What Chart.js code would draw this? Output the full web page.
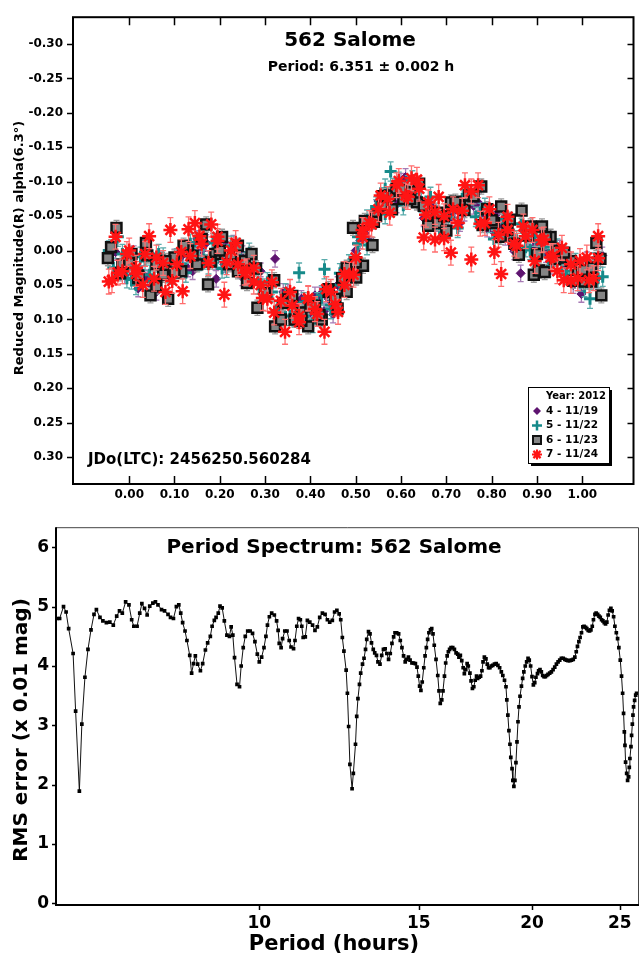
<!DOCTYPE html>
<html>
<head>
<meta charset="utf-8">
<title>562 Salome</title>
<script src="https://cdn.jsdelivr.net/npm/chart.js"></script>
<style>
  html, body { margin: 0; padding: 0; background: #fff; }
  #wrap { position: relative; width: 643px; height: 967px; }
  #curve { position: absolute; left: 0; top: 0; }
  #spectrum { position: absolute; left: 0; top: 510px; }
</style>
</head>
<body>
<div id="wrap">
  <canvas id="curve" width="643" height="510"></canvas>
  <canvas id="spectrum" width="643" height="457"></canvas>
</div>
<script>
const FONT = "'DejaVu Sans', sans-serif";

// Lightcurve: phase and reduced magnitude for each night
const phase4 = [-0.04, -0.02, 0.00, 0.02, 0.04, 0.06, 0.08, 0.10, 0.12, 0.14,
  0.16, 0.192, 0.21, 0.23, 0.25, 0.27, 0.29, 0.322, 0.34, 0.36,
  0.38, 0.40, 0.42, 0.44, 0.46, 0.48, 0.50, 0.52, 0.54, 0.56,
  0.58, 0.60, 0.62, 0.64, 0.66, 0.68, 0.70, 0.72, 0.74, 0.76,
  0.78, 0.80, 0.82, 0.864, 0.88, 0.90, 0.92, 0.94, 0.96, 0.98,
  0.998, 1.02, 1.044];
const mag4 = [0.005, 0.030, 0.020, 0.055, 0.040, 0.060, 0.030, 0.010, 0.005, 0.030,
  0.000, 0.041, 0.020, -0.010, 0.005, 0.010, 0.030, 0.012, 0.060, 0.080,
  0.070, 0.090, 0.065, 0.070, 0.050, 0.030, 0.000, -0.025, -0.050, -0.070,
  -0.080, -0.100, -0.080, -0.075, -0.050, -0.040, -0.050, -0.060, -0.055, -0.065,
  -0.050, -0.030, -0.035, 0.033, -0.020, -0.010, 0.005, 0.000, 0.020, 0.050,
  0.063, 0.030, 0.007];
const phase4b = [-0.03, -0.01, 0.01, 0.03, 0.05, 0.07, 0.09, 0.11, 0.13, 0.15,
  0.17, 0.19, 0.21, 0.23, 0.25, 0.27, 0.29, 0.31, 0.33, 0.35,
  0.37, 0.39, 0.41, 0.43, 0.45, 0.47, 0.49, 0.51, 0.53, 0.55,
  0.57, 0.59, 0.61, 0.63, 0.65, 0.67, 0.69, 0.71, 0.73, 0.75,
  0.77, 0.79, 0.81, 0.83, 0.85, 0.87, 0.89, 0.91, 0.93, 0.95,
  0.97, 0.99, 1.01, 1.03];
const mag4b = [0.002, 0.036, 0.005, 0.034, 0.051, 0.012, 0.030, 0.012, 0.026, -0.017,
  -0.011, 0.016, -0.012, 0.018, 0.039, 0.015, 0.050, 0.052, 0.086, 0.061,
  0.075, 0.101, 0.065, 0.088, 0.093, 0.035, 0.028, -0.015, -0.017, -0.072,
  -0.080, -0.067, -0.107, -0.076, -0.047, -0.065, -0.032, -0.048, -0.040, -0.083,
  -0.070, -0.032, -0.053, -0.020, 0.001, -0.029, -0.002, -0.009, 0.022, -0.003,
  0.014, 0.046, 0.014, 0.042];

const phase5 = [-0.045, -0.025, -0.005, 0.015, 0.035, 0.055, 0.075, 0.095, 0.115, 0.135,
  0.155, 0.175, 0.195, 0.215, 0.235, 0.255, 0.275, 0.295, 0.315, 0.335,
  0.355, 0.375, 0.395, 0.415, 0.431, 0.445, 0.465, 0.485, 0.505, 0.525,
  0.545, 0.565, 0.577, 0.595, 0.615, 0.635, 0.655, 0.675, 0.695, 0.715,
  0.735, 0.755, 0.775, 0.795, 0.815, 0.835, 0.855, 0.875, 0.895, 0.915,
  0.935, 0.955, 0.975, 0.995, 1.017, 1.035];
const mag5 = [0.000, -0.020, 0.040, 0.050, 0.015, 0.045, 0.010, 0.035, 0.020, -0.010,
  0.015, 0.020, 0.010, 0.025, 0.005, 0.030, 0.020, 0.055, 0.060, 0.090,
  0.095, 0.032, 0.100, 0.075, 0.027, 0.085, 0.050, 0.020, -0.020, -0.045,
  -0.060, -0.090, -0.115, -0.100, -0.095, -0.090, -0.060, -0.055, -0.035, -0.060,
  -0.075, -0.080, -0.055, -0.040, -0.025, -0.030, -0.015, -0.005, -0.020, -0.005,
  0.000, 0.020, 0.030, 0.045, 0.070, 0.040];
const phase5b = [-0.035, -0.015, 0.005, 0.025, 0.045, 0.065, 0.085, 0.105, 0.125, 0.145,
  0.165, 0.185, 0.205, 0.225, 0.245, 0.265, 0.285, 0.305, 0.325, 0.345,
  0.365, 0.385, 0.405, 0.425, 0.445, 0.465, 0.485, 0.505, 0.525, 0.545,
  0.565, 0.585, 0.605, 0.625, 0.645, 0.665, 0.685, 0.705, 0.725, 0.745,
  0.765, 0.785, 0.805, 0.825, 0.845, 0.865, 0.885, 0.905, 0.925, 0.945,
  0.965, 0.985, 1.005, 1.025, 1.045];
const mag5b = [0.025, 0.005, 0.042, 0.009, 0.035, 0.005, 0.033, 0.011, 0.032, -0.012,
  0.013, -0.011, 0.026, -0.007, 0.021, 0.003, 0.049, 0.046, 0.087, 0.062,
  0.097, 0.075, 0.105, 0.065, 0.079, 0.033, 0.038, -0.010, -0.008, -0.064,
  -0.053, -0.091, -0.066, -0.102, -0.070, -0.078, -0.032, -0.049, -0.033, -0.078,
  -0.049, -0.062, -0.017, -0.046, -0.017, -0.039, -0.001, -0.013, 0.024, -0.003,
  0.035, 0.018, 0.053, 0.017, 0.038];

const phase6 = [-0.047, -0.028, -0.015, 0.005, 0.020, 0.037, 0.047, 0.060, 0.075, 0.086,
  0.100, 0.115, 0.130, 0.150, 0.170, 0.174, 0.190, 0.205, 0.225, 0.240,
  0.255, 0.270, 0.283, 0.300, 0.322, 0.335, 0.350, 0.365, 0.380, 0.395,
  0.410, 0.425, 0.440, 0.455, 0.470, 0.480, 0.494, 0.501, 0.516, 0.537,
  0.545, 0.560, 0.575, 0.590, 0.605, 0.620, 0.635, 0.650, 0.665, 0.680,
  0.695, 0.710, 0.730, 0.750, 0.777, 0.790, 0.805, 0.821, 0.835, 0.850,
  0.866, 0.886, 0.893, 0.904, 0.911, 0.917, 0.930, 0.945, 0.960, 0.975,
  0.990, 1.005, 1.020, 1.031, 1.042];
const mag6 = [0.011, -0.033, 0.020, 0.005, 0.040, -0.011, 0.065, 0.020, 0.035, 0.070,
  0.010, 0.030, 0.000, 0.020, -0.038, 0.049, 0.005, -0.020, 0.010, 0.030,
  0.015, 0.005, 0.083, 0.060, 0.110, 0.100, 0.070, 0.100, 0.090, 0.110,
  0.080, 0.100, 0.060, 0.070, 0.040, 0.060, -0.033, 0.039, 0.022, -0.008,
  -0.050, -0.065, -0.080, -0.090, -0.075, -0.085, -0.070, -0.065, -0.050, -0.040,
  -0.050, -0.070, -0.065, -0.080, -0.093, -0.060, -0.040, -0.064, -0.030, -0.010,
  -0.058, -0.035, 0.035, 0.029, -0.035, 0.031, -0.020, 0.000, 0.010, 0.015,
  0.030, 0.045, 0.025, -0.011, 0.065];
const phase6b = [-0.04, -0.02, 0.00, 0.02, 0.04, 0.06, 0.08, 0.10, 0.12, 0.14,
  0.16, 0.18, 0.20, 0.22, 0.24, 0.26, 0.28, 0.30, 0.32, 0.34,
  0.36, 0.38, 0.40, 0.42, 0.44, 0.46, 0.48, 0.50, 0.52, 0.54,
  0.56, 0.58, 0.60, 0.62, 0.64, 0.66, 0.68, 0.70, 0.72, 0.74,
  0.76, 0.78, 0.80, 0.82, 0.84, 0.86, 0.88, 0.90, 0.92, 0.94,
  0.96, 0.98, 1.00, 1.02, 1.04];
const mag6b = [-0.005, 0.033, 0.018, 0.036, 0.007, 0.052, 0.015, 0.032, -0.007, 0.007,
  -0.017, 0.016, 0.000, 0.020, -0.007, 0.047, 0.026, 0.062, 0.043, 0.076,
  0.066, 0.102, 0.081, 0.094, 0.056, 0.084, 0.025, 0.017, -0.043, -0.042,
  -0.079, -0.060, -0.089, -0.075, -0.097, -0.036, -0.055, -0.029, -0.071, -0.059,
  -0.079, -0.037, -0.044, -0.020, -0.045, 0.006, -0.022, 0.005, -0.020, 0.012,
  0.003, 0.044, 0.028, 0.045, 0.012];

const phase7 = [-0.045, -0.038, -0.030, -0.015, 0.000, 0.015, 0.030, 0.044, 0.060, 0.080,
  0.091, 0.105, 0.118, 0.131, 0.145, 0.160, 0.181, 0.195, 0.210, 0.225,
  0.240, 0.260, 0.275, 0.290, 0.305, 0.320, 0.344, 0.360, 0.375, 0.395,
  0.410, 0.431, 0.445, 0.461, 0.475, 0.486, 0.500, 0.515, 0.530, 0.550,
  0.570, 0.590, 0.610, 0.623, 0.640, 0.650, 0.660, 0.675, 0.683, 0.695,
  0.710, 0.725, 0.741, 0.755, 0.770, 0.785, 0.806, 0.821, 0.835, 0.850,
  0.870, 0.890, 0.910, 0.930, 0.945, 0.959, 0.975, 0.990, 1.010, 1.025,
  1.035];
const mag7 = [0.045, 0.043, -0.020, 0.030, 0.000, 0.025, 0.050, -0.021, 0.010, 0.060,
  -0.030, 0.020, 0.059, -0.031, -0.040, -0.010, -0.038, -0.020, 0.064, 0.000,
  0.020, 0.030, 0.045, 0.050, 0.070, 0.090, 0.118, 0.080, 0.095, 0.070,
  0.085, 0.118, 0.060, 0.089, 0.050, 0.035, 0.010, -0.020, -0.040, -0.060,
  -0.075, -0.095, -0.080, -0.105, -0.090, -0.019, -0.070, -0.016, -0.078, -0.050,
  0.003, -0.040, -0.095, 0.013, -0.095, -0.040, 0.002, 0.034, -0.030, -0.010,
  -0.035, -0.030, -0.015, 0.010, 0.030, 0.043, 0.020, 0.040, 0.010, 0.040,
  -0.021];
const phase7b = [-0.025, -0.005, 0.015, 0.035, 0.055, 0.075, 0.095, 0.115, 0.135, 0.155,
  0.175, 0.195, 0.215, 0.235, 0.255, 0.275, 0.295, 0.315, 0.335, 0.355,
  0.375, 0.395, 0.415, 0.435, 0.455, 0.475, 0.495, 0.515, 0.535, 0.555,
  0.575, 0.595, 0.615, 0.635, 0.655, 0.675, 0.695, 0.715, 0.735, 0.755,
  0.775, 0.795, 0.815, 0.835, 0.855, 0.875, 0.895, 0.915, 0.935, 0.955,
  0.975, 0.995, 1.015, 1.035];
const mag7b = [0.032, 0.005, 0.034, 0.005, 0.041, 0.018, 0.044, 0.002, 0.008, -0.021,
  0.018, -0.014, 0.017, -0.011, 0.032, 0.025, 0.069, 0.046, 0.073, 0.060,
  0.104, 0.069, 0.092, 0.056, 0.078, 0.034, 0.035, -0.030, -0.038, -0.080,
  -0.055, -0.101, -0.078, -0.103, -0.052, -0.056, -0.018, -0.060, -0.058, -0.086,
  -0.039, -0.060, -0.023, -0.049, -0.007, -0.021, 0.015, -0.016, 0.008, -0.004,
  0.044, 0.015, 0.043, 0.011];

// typical error bar half-heights per night
const err4 = 0.012, err5 = 0.014, err6 = 0.011, err7 = 0.018;

const phaseTicks = [0.0, 0.1, 0.2, 0.3, 0.4, 0.5, 0.6, 0.7, 0.8, 0.9, 1.0];
const magTicks = [-0.30, -0.25, -0.20, -0.15, -0.10, -0.05, 0.00, 0.05, 0.10, 0.15, 0.20, 0.25, 0.30];

// Period spectrum
const periodHours = [
  5.98, 6.02, 6.08, 6.12, 6.16, 6.23, 6.27, 6.33, 6.37, 6.42,
  6.47, 6.52, 6.57, 6.61, 6.67, 6.72, 6.78, 6.84, 6.90, 6.96,
  7.01, 7.06, 7.12, 7.18, 7.23, 7.27, 7.33, 7.38, 7.42, 7.47,
  7.52, 7.57, 7.63, 7.68, 7.73, 7.80, 7.86, 7.93, 7.98, 8.04,
  8.10, 8.15, 8.19, 8.23, 8.28, 8.32, 8.38, 8.42, 8.46, 8.50,
  8.55, 8.61, 8.66, 8.72, 8.77, 8.83, 8.87, 8.92, 8.96, 9.01,
  9.05, 9.10, 9.15, 9.21, 9.27, 9.31, 9.35, 9.39, 9.45, 9.51,
  9.55, 9.60, 9.65, 9.71, 9.77, 9.83, 9.89, 9.95, 10.00, 10.06,
  10.12, 10.17, 10.21, 10.26, 10.32, 10.39, 10.45, 10.49, 10.52, 10.57,
  10.61, 10.67, 10.73, 10.79, 10.84, 10.91, 10.95, 11.00, 11.05, 11.10,
  11.14, 11.18, 11.24, 11.30, 11.37, 11.45, 11.52, 11.59, 11.66, 11.74,
  11.82, 11.89, 11.96, 12.04, 12.11, 12.18, 12.25, 12.30, 12.35, 12.40,
  12.47, 12.51, 12.55, 12.59, 12.66, 12.70, 12.77, 12.81, 12.85, 12.90,
  12.94, 13.00, 13.05, 13.10, 13.14, 13.20, 13.25, 13.30, 13.36, 13.41,
  13.47, 13.52, 13.59, 13.65, 13.71, 13.77, 13.83, 13.89, 13.95, 14.01,
  14.07, 14.12, 14.18, 14.25, 14.31, 14.37, 14.43, 14.49, 14.55, 14.61,
  14.67, 14.74, 14.80, 14.87, 14.93, 14.98, 15.03, 15.08, 15.13, 15.19,
  15.24, 15.29, 15.34, 15.39, 15.45, 15.50, 15.55, 15.60, 15.67, 15.74,
  15.79, 15.84, 15.90, 15.95, 16.01, 16.06, 16.12, 16.17, 16.22, 16.28,
  16.35, 16.42, 16.49, 16.56, 16.61, 16.67, 16.73, 16.79, 16.84, 16.90,
  16.96, 17.01, 17.08, 17.13, 17.19, 17.25, 17.31, 17.37, 17.42, 17.49,
  17.55, 17.61, 17.66, 17.72, 17.79, 17.85, 17.91, 17.97, 18.03, 18.10,
  18.18, 18.26, 18.34, 18.42, 18.50, 18.57, 18.65, 18.72, 18.76, 18.81,
  18.86, 18.91, 18.95, 19.01, 19.05, 19.10, 19.15, 19.20, 19.25, 19.30,
  19.35, 19.40, 19.47, 19.53, 19.59, 19.66, 19.73, 19.80, 19.86, 19.93,
  20.00, 20.07, 20.14, 20.20, 20.28, 20.34, 20.41, 20.48, 20.55, 20.62,
  20.69, 20.76, 20.83, 20.92, 21.01, 21.10, 21.19, 21.28, 21.37, 21.46,
  21.55, 21.65, 21.74, 21.83, 21.92, 22.02, 22.11, 22.21, 22.30, 22.38,
  22.45, 22.53, 22.60, 22.68, 22.76, 22.83, 22.92, 22.99, 23.07, 23.15,
  23.23, 23.31, 23.38, 23.47, 23.54, 23.63, 23.71, 23.79, 23.87, 23.95,
  24.03, 24.11, 24.19, 24.27, 24.35, 24.44, 24.52, 24.61, 24.69, 24.78,
  24.86, 24.94, 25.03, 25.11, 25.18, 25.24, 25.29, 25.33, 25.37, 25.44,
  25.50, 25.57, 25.61, 25.65, 25.72, 25.76, 25.81, 25.85, 25.89, 25.96,
  26.03, 26.09];
const rmsError = [
  4.80, 4.80, 5.00, 4.91, 4.63, 4.21, 3.24, 1.89, 3.02, 3.81,
  4.28, 4.61, 4.87, 4.95, 4.82, 4.76, 4.73, 4.74, 4.69, 4.84,
  4.93, 4.89, 5.08, 5.03, 4.78, 4.67, 4.67, 4.89, 5.05, 4.97,
  4.86, 5.01, 5.06, 5.08, 5.03, 4.95, 4.93, 4.87, 4.82, 4.80,
  5.00, 5.03, 4.89, 4.73, 4.59, 4.43, 4.18, 3.88, 4.04, 4.17,
  4.03, 3.92, 4.04, 4.27, 4.39, 4.50, 4.67, 4.77, 4.82, 4.89,
  5.01, 4.98, 4.76, 4.52, 4.50, 4.66, 4.52, 4.14, 3.69, 3.65,
  4.00, 4.31, 4.50, 4.59, 4.59, 4.55, 4.41, 4.20, 4.07, 4.15,
  4.31, 4.50, 4.69, 4.83, 4.89, 4.86, 4.76, 4.60, 4.38, 4.31,
  4.46, 4.59, 4.59, 4.43, 4.32, 4.29, 4.43, 4.67, 4.80, 4.78,
  4.67, 4.48, 4.49, 4.77, 4.74, 4.69, 4.60, 4.66, 4.82, 4.89,
  4.87, 4.78, 4.74, 4.77, 4.91, 4.94, 4.88, 4.78, 4.48, 4.25,
  3.93, 3.54, 2.98, 2.34, 1.93, 2.19, 2.68, 3.15, 3.45, 3.69,
  3.88, 4.03, 4.13, 4.28, 4.45, 4.58, 4.54, 4.39, 4.28, 4.22,
  4.18, 4.07, 4.03, 4.18, 4.28, 4.29, 4.21, 4.11, 4.21, 4.38,
  4.49, 4.56, 4.56, 4.54, 4.43, 4.31, 4.17, 4.07, 4.11, 4.15,
  4.10, 4.05, 4.05, 4.04, 3.98, 3.83, 3.66, 3.59, 3.73, 3.97,
  4.17, 4.31, 4.45, 4.56, 4.61, 4.63, 4.54, 4.35, 4.11, 3.84,
  3.58, 3.37, 3.43, 3.58, 3.83, 4.05, 4.17, 4.24, 4.28, 4.31,
  4.31, 4.28, 4.22, 4.20, 4.15, 4.18, 4.09, 3.97, 3.87, 3.94,
  4.04, 4.00, 3.88, 3.75, 3.62, 3.65, 3.76, 3.83, 3.79, 3.81,
  3.83, 3.92, 4.07, 4.15, 4.12, 4.03, 3.97, 3.97, 4.00, 4.01,
  4.03, 4.04, 4.01, 3.97, 3.90, 3.84, 3.76, 3.65, 3.43, 3.17,
  2.91, 2.68, 2.46, 2.27, 2.07, 1.97, 2.07, 2.37, 2.72, 3.06,
  3.31, 3.49, 3.66, 3.79, 3.90, 4.00, 4.07, 4.13, 4.10, 4.00,
  3.82, 3.68, 3.72, 3.81, 3.87, 3.92, 3.94, 3.90, 3.84, 3.82,
  3.82, 3.84, 3.86, 3.88, 3.90, 3.94, 3.98, 4.03, 4.07, 4.10,
  4.13, 4.13, 4.11, 4.10, 4.09, 4.09, 4.10, 4.11, 4.15, 4.24,
  4.33, 4.41, 4.48, 4.56, 4.66, 4.67, 4.65, 4.63, 4.60, 4.59,
  4.61, 4.67, 4.78, 4.87, 4.89, 4.87, 4.84, 4.82, 4.78, 4.76,
  4.73, 4.71, 4.74, 4.86, 4.94, 4.97, 4.93, 4.83, 4.67, 4.56,
  4.46, 4.31, 4.10, 3.83, 3.54, 3.20, 2.89, 2.66, 2.38, 2.19,
  2.07, 2.13, 2.29, 2.44, 2.64, 2.83, 3.02, 3.17, 3.31, 3.42,
  3.51, 3.54];

const periodTicks = [10, 15, 20, 25];
const rmsTicks = [0, 1, 2, 3, 4, 5, 6];

function pts(xs, ys) {
  return xs.map((x, i) => ({ x: x, y: ys[i] }));
}

// error bars drawn just under each dataset's markers
const errorBars = {
  id: 'errorBars',
  beforeDatasetDraw(chart, args) {
    const ds = chart.data.datasets[args.index];
    if (!ds.errors) return;
    const ctx = chart.ctx, x = chart.scales.x, y = chart.scales.y;
    ctx.save();
    ctx.strokeStyle = ds.errorColor;
    ctx.lineWidth = 1.3;
    ctx.beginPath();
    ds.data.forEach(p => {
      const px = x.getPixelForValue(p.x);
      const y1 = y.getPixelForValue(p.y - ds.errors);
      const y2 = y.getPixelForValue(p.y + ds.errors);
      ctx.moveTo(px, y1); ctx.lineTo(px, y2);
      ctx.moveTo(px - 3, y1); ctx.lineTo(px + 3, y1);
      ctx.moveTo(px - 3, y2); ctx.lineTo(px + 3, y2);
    });
    ctx.stroke();
    ctx.restore();
  }
};

function legendMark(ctx, kind, x, y) {
  ctx.save();
  if (kind === 'diamond') {
    ctx.fillStyle = '#5e1470';
    ctx.beginPath();
    ctx.moveTo(x, y - 4); ctx.lineTo(x + 4, y); ctx.lineTo(x, y + 4); ctx.lineTo(x - 4, y);
    ctx.closePath(); ctx.fill();
  } else if (kind === 'plus') {
    ctx.strokeStyle = '#168a8a'; ctx.lineWidth = 2.5;
    ctx.beginPath();
    ctx.moveTo(x - 5, y); ctx.lineTo(x + 5, y); ctx.moveTo(x, y - 5); ctx.lineTo(x, y + 5);
    ctx.stroke();
  } else if (kind === 'square') {
    ctx.fillStyle = '#858585'; ctx.strokeStyle = '#111'; ctx.lineWidth = 2;
    ctx.fillRect(x - 4, y - 4, 8, 8); ctx.strokeRect(x - 4, y - 4, 8, 8);
  } else {
    ctx.strokeStyle = '#ff1414'; ctx.lineWidth = 2.2;
    ctx.beginPath();
    ctx.moveTo(x - 5, y); ctx.lineTo(x + 5, y); ctx.moveTo(x, y - 5); ctx.lineTo(x, y + 5);
    ctx.moveTo(x - 3.6, y - 3.6); ctx.lineTo(x + 3.6, y + 3.6);
    ctx.moveTo(x - 3.6, y + 3.6); ctx.lineTo(x + 3.6, y - 3.6);
    ctx.stroke();
  }
  ctx.restore();
}

const curveDecor = {
  id: 'curveDecor',
  afterDraw(chart) {
    const ctx = chart.ctx, a = chart.chartArea, x = chart.scales.x, y = chart.scales.y;
    ctx.save();
    ctx.strokeStyle = '#000';
    ctx.lineWidth = 2;
    ctx.strokeRect(a.left, a.top, a.right - a.left, a.bottom - a.top);
    ctx.lineWidth = 1.5;
    ctx.beginPath();
    phaseTicks.forEach(v => {
      const px = Math.round(x.getPixelForValue(v)) + 0.5;
      ctx.moveTo(px, a.top); ctx.lineTo(px, a.top + 8);
      ctx.moveTo(px, a.bottom); ctx.lineTo(px, a.bottom - 8);
    });
    magTicks.forEach(v => {
      const py = Math.round(y.getPixelForValue(v)) + 0.5;
      ctx.moveTo(a.left - 6, py); ctx.lineTo(a.left, py);
      ctx.moveTo(a.right, py); ctx.lineTo(a.right - 6, py);
    });
    ctx.stroke();

    ctx.fillStyle = '#000';
    ctx.textAlign = 'center';
    ctx.textBaseline = 'middle';
    ctx.font = 'bold 20px ' + FONT;
    ctx.fillText('562 Salome', 350, 41);
    ctx.font = 'bold 14px ' + FONT;
    ctx.fillText('Period: 6.351 \u00b1 0.002 h', 361, 67);
    ctx.textAlign = 'left';
    ctx.font = 'bold 15px ' + FONT;
    ctx.fillText('JDo(LTC): 2456250.560284', 88, 460);

    ctx.save();
    ctx.translate(20, 248);
    ctx.rotate(-Math.PI / 2);
    ctx.textAlign = 'center';
    ctx.font = 'bold 13px ' + FONT;
    ctx.fillText('Reduced Magnitude(R) alpha(6.3\u00b0)', 0, 0);
    ctx.restore();

    // legend box with drop shadow
    const lx = 528, ly = 387, lw = 81, lh = 76;
    ctx.fillStyle = '#000';
    ctx.fillRect(lx + 3, ly + 3, lw, lh);
    ctx.fillStyle = '#fff';
    ctx.fillRect(lx, ly, lw, lh);
    ctx.lineWidth = 1;
    ctx.strokeRect(lx + 0.5, ly + 0.5, lw, lh);
    ctx.fillStyle = '#000';
    ctx.textAlign = 'right';
    ctx.font = 'bold 10px ' + FONT;
    ctx.fillText('Year: 2012', lx + lw - 3, ly + 9);
    const items = [['diamond', '4 - 11/19'], ['plus', '5 - 11/22'], ['square', '6 - 11/23'], ['star', '7 - 11/24']];
    ctx.textAlign = 'left';
    items.forEach((it, i) => {
      const ry = ly + 24 + i * 14.5;
      legendMark(ctx, it[0], lx + 9, ry);
      ctx.fillStyle = '#000';
      ctx.font = 'bold 10.5px ' + FONT;
      ctx.fillText(it[1], lx + 18, ry);
    });
    ctx.restore();
  }
};

const tickFont = (size) => ({ family: FONT, size: size, weight: 'bold' });
const noGrid = { display: false, drawTicks: false };

new Chart(document.getElementById('curve'), {
  type: 'scatter',
  data: {
    datasets: [
      { label: '4 - 11/19', data: pts(phase4.concat(phase4b), mag4.concat(mag4b)),
        errors: err4, errorColor: '#a77bb5',
        pointStyle: 'rectRot', pointRadius: 4.5, pointBackgroundColor: '#5e1470',
        pointBorderColor: '#5e1470', pointBorderWidth: 1, order: 3 },
      { label: '5 - 11/22', data: pts(phase5.concat(phase5b), mag5.concat(mag5b)),
        errors: err5, errorColor: '#5aacac',
        pointStyle: 'cross', pointRadius: 6, pointBackgroundColor: '#168a8a',
        pointBorderColor: '#168a8a', pointBorderWidth: 3, order: 2 },
      { label: '6 - 11/23', data: pts(phase6.concat(phase6b), mag6.concat(mag6b)),
        errors: err6, errorColor: '#9c9c9c',
        pointStyle: 'rect', pointRadius: 7, pointBackgroundColor: '#858585',
        pointBorderColor: '#111', pointBorderWidth: 2.5, order: 1 },
      { label: '7 - 11/24', data: pts(phase7.concat(phase7b), mag7.concat(mag7b)),
        errors: err7, errorColor: '#ff6e6e',
        pointStyle: 'star', pointRadius: 7, pointBackgroundColor: '#ff1414',
        pointBorderColor: '#ff1414', pointBorderWidth: 2.5, order: 0 }
    ]
  },
  options: {
    responsive: false,
    animation: false,
    events: [],
    layout: { padding: { top: 12, right: 2, left: 0, bottom: 0 } },
    plugins: { legend: { display: false }, tooltip: { enabled: false } },
    scales: {
      x: {
        type: 'linear', min: -0.124, max: 1.113,
        grid: noGrid, border: { display: false },
        afterBuildTicks: s => { s.ticks = phaseTicks.map(v => ({ value: v })); },
        afterFit: s => { s.height = 26; },
        ticks: { font: tickFont(12), color: '#000', padding: 4, maxRotation: 0, autoSkip: false,
          callback: v => v.toFixed(2) }
      },
      y: {
        type: 'linear', reverse: true, min: -0.339, max: 0.339,
        grid: noGrid, border: { display: false },
        afterBuildTicks: s => { s.ticks = magTicks.map(v => ({ value: v })); },
        afterFit: s => { s.width = 73; },
        ticks: { font: tickFont(12), color: '#000', padding: 10, autoSkip: false,
          callback: v => v.toFixed(2) }
      }
    }
  },
  plugins: [errorBars, curveDecor]
});

const spectrumDecor = {
  id: 'spectrumDecor',
  afterDraw(chart) {
    const ctx = chart.ctx, a = chart.chartArea, x = chart.scales.x, y = chart.scales.y;
    ctx.save();
    ctx.strokeStyle = '#444';
    ctx.lineWidth = 1;
    ctx.beginPath();
    ctx.moveTo(a.left, a.top + 0.5); ctx.lineTo(a.right - 0.5, a.top + 0.5); ctx.lineTo(a.right - 0.5, a.bottom);
    ctx.stroke();
    ctx.strokeStyle = '#000';
    ctx.lineWidth = 2;
    ctx.beginPath();
    ctx.moveTo(a.left, a.top); ctx.lineTo(a.left, a.bottom); ctx.lineTo(a.right, a.bottom);
    ctx.stroke();
    ctx.lineWidth = 1.5;
    ctx.beginPath();
    periodTicks.forEach(v => {
      const px = Math.round(x.getPixelForValue(v)) + 0.5;
      ctx.moveTo(px, a.bottom); ctx.lineTo(px, a.bottom + 5);
    });
    rmsTicks.forEach(v => {
      const py = Math.round(y.getPixelForValue(v)) + 0.5;
      ctx.moveTo(a.left - 4, py); ctx.lineTo(a.left, py);
    });
    ctx.stroke();

    ctx.fillStyle = '#000';
    ctx.textAlign = 'center';
    ctx.textBaseline = 'middle';
    ctx.font = 'bold 20px ' + FONT;
    ctx.fillText('Period Spectrum: 562 Salome', 334, 38);
    ctx.font = 'bold 21px ' + FONT;
    ctx.fillText('Period (hours)', 334, 435);

    ctx.font = 'bold 20px ' + FONT;
    ctx.translate(22, 220);
    ctx.rotate(-Math.PI / 2);
    ctx.fillText('RMS error (x 0.01 mag)', 0, 0);
    ctx.restore();
  }
};

new Chart(document.getElementById('spectrum'), {
  type: 'scatter',
  data: {
    datasets: [{
      label: 'RMS error',
      data: pts(periodHours, rmsError),
      showLine: true,
      borderColor: '#111',
      borderWidth: 1,
      tension: 0,
      pointStyle: 'rect',
      pointRadius: 2.6,
      pointBackgroundColor: '#000',
      pointBorderColor: '#000',
      pointBorderWidth: 0
    }]
  },
  options: {
    responsive: false,
    animation: false,
    events: [],
    layout: { padding: { top: 17, right: 2, left: 0, bottom: 0 } },
    plugins: { legend: { display: false }, tooltip: { enabled: false } },
    scales: {
      x: {
        type: 'logarithmic', min: 5.965, max: 26.25,
        grid: noGrid, border: { display: false },
        afterBuildTicks: s => { s.ticks = periodTicks.map(v => ({ value: v })); },
        afterFit: s => { s.height = 62; },
        ticks: { font: tickFont(17), color: '#000', padding: 8, maxRotation: 0, autoSkip: false,
          callback: v => String(v) }
      },
      y: {
        type: 'linear', min: -0.03, max: 6.34,
        grid: noGrid, border: { display: false },
        afterBuildTicks: s => { s.ticks = rmsTicks.map(v => ({ value: v })); },
        afterFit: s => { s.width = 56; },
        ticks: { font: tickFont(17), color: '#000', padding: 7, autoSkip: false,
          callback: v => String(v) }
      }
    }
  },
  plugins: [spectrumDecor]
});
</script>
</body>
</html>
